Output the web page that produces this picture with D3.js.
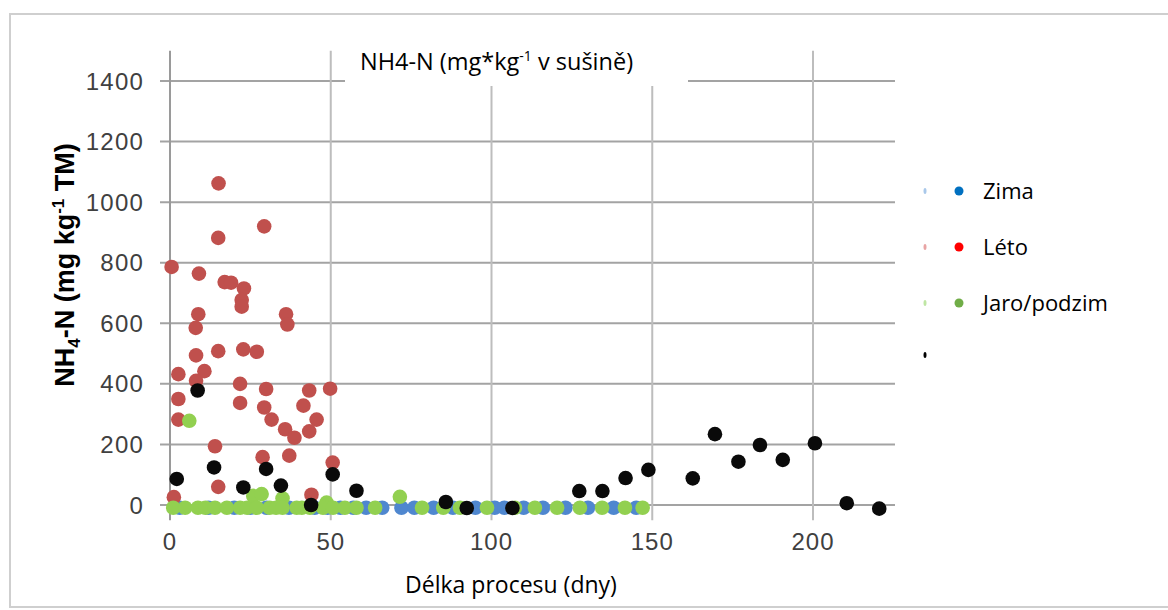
<!DOCTYPE html>
<html>
<head>
<meta charset="utf-8">
<script src="https://cdn.jsdelivr.net/npm/d3@7"></script>
<style>
  body { margin: 0; background: #fff; }
  svg { display: block; }
</style>
</head>
<body>
<div id="chart"></div>
<script>
// series values, [days, NH4-N]
var zima = [[3,-9],[12,-9],[20,-9],[25,-9],[30,-9],[37,-9],[45,-9],[49,-9],[53,-9],[57,-9],[61,-9],
            [66,-9],[72,-9],[76,-9],[82,-9],[88,-9],[95,-9],[101,-9],[104,-9],[110,-9],[116,-9],
            [123,-9],[130,-9],[138,-9],[145,-9]];
var leto = [[0.5,786],[15.1,1062],[29.3,920],[15,882],[9,764],[17,736],[19,734],[23,715],[22.3,677],
            [22.3,655],[8.8,630],[8,585],[36.1,630],[36.5,596],[8.1,494],[15,508],[22.8,514],[27,506],
            [2.6,432],[10.7,442],[8.1,410],[2.6,350],[2.6,282],[21.8,400],[21.8,337],[29.9,383],
            [29.3,322],[31.6,282],[43.3,378],[41.5,328],[49.8,384],[45.6,282],[35.8,250],[43.3,243],
            [38.7,222],[14,194],[28.8,158],[37.1,163],[50.6,140],[15,60],[1.2,26],[44,34]];
var jaroPodzim = [[6,278],[25.9,30],[28.5,36],[35,22],[48.7,8],[71.5,27],
            [1,-9],[4.7,-9],[8.7,-9],[11,-9],[14,-9],[17.7,-9],[21.8,-9],[24,-9],[27,-9],[31,-9],
            [33,-9],[35,-9],[39.4,-9],[41,-9],[43.5,-9],[47.6,-9],[50.7,-9],[54.4,-9],[58,-9],
            [63.8,-9],[78.4,-9],[85,-9],[90.2,-9],[98.6,-9],[107.3,-9],[113.5,-9],[120.4,-9],
            [127.5,-9],[134.4,-9],[141.5,-9],[147,-9]];
var ostatni = [[2.1,86],[8.6,378],[13.7,124],[22.8,58],[29.9,119],[34.5,64],[43.9,0],[50.6,101],
            [58,47],[85.8,10],[92.3,-10],[106.5,-10],[127.3,46],[134.5,46],[141.7,89],[148.8,116],
            [162.6,88],[169.5,234],[176.8,143],[183.5,198],[190.6,149],[200.6,204],[210.5,6],[220.6,-12]];

var xTicks = [0, 50, 100, 150, 200];
var yTicks = [0, 200, 400, 600, 800, 1000, 1200, 1400];
var legendNames = ["Zima", "Léto", "Jaro/podzim", ""];

var width = 1168, height = 610;

var svg = d3.select("#chart").append("svg")
    .attr("width", width)
    .attr("height", height);

// outer frame
svg.append("rect")
    .attr("x", 10).attr("y", 14)
    .attr("width", 1180).attr("height", 593)
    .attr("fill", "#fff")
    .attr("stroke", "#cfcfcf")
    .attr("stroke-width", 2);

var x = d3.scaleLinear().domain([0, 200]).range([170, 813]);
var y = d3.scaleLinear().domain([0, 1400]).range([505, 81]);

var grid = svg.append("g");

// horizontal gridlines (with tick stubs to the left)
grid.selectAll(".hgrid")
    .data(yTicks)
  .enter().append("line")
    .attr("class", "hgrid")
    .attr("x1", x(0) - 10).attr("x2", x(225.5))
    .attr("y1", function(d) { return y(d); })
    .attr("y2", function(d) { return y(d); })
    .attr("stroke", "#a3a3a3")
    .attr("stroke-width", 2);

// vertical gridlines
grid.selectAll(".vgrid")
    .data(xTicks)
  .enter().append("line")
    .attr("class", "vgrid")
    .attr("x1", function(d) { return x(d); })
    .attr("x2", function(d) { return x(d); })
    .attr("y1", y(1500)).attr("y2", y(-50))
    .attr("stroke", function(d) { return d === 0 ? "#9a9a9a" : "#bdbdbd"; })
    .attr("stroke-width", 2);

// tick labels
svg.append("g").selectAll("text")
    .data(yTicks)
  .enter().append("text")
    .attr("x", 144)
    .attr("y", function(d) { return y(d); })
    .attr("dy", "0.36em")
    .attr("text-anchor", "end")
    .style("font-family", "'Liberation Sans', Arial, sans-serif")
    .style("font-size", "24px")
    .style("letter-spacing", "1.2px")
    .attr("fill", "#404040")
    .text(function(d) { return d; });

svg.append("g").selectAll("text")
    .data(xTicks)
  .enter().append("text")
    .attr("x", function(d) { return x(d); })
    .attr("y", 541)
    .attr("dy", "0.36em")
    .attr("text-anchor", "middle")
    .style("font-family", "'Liberation Sans', Arial, sans-serif")
    .style("font-size", "24px")
    .style("letter-spacing", "1px")
    .attr("fill", "#404040")
    .text(function(d) { return d; });

// points
var r = 7.3;
function drawSeries(data, color) {
  svg.append("g").selectAll("circle")
      .data(data)
    .enter().append("circle")
      .attr("cx", function(d) { return x(d[0]); })
      .attr("cy", function(d) { return y(d[1]); })
      .attr("r", r)
      .attr("fill", color);
}
drawSeries(zima, "#4f87cf");
drawSeries(leto, "#c0504d");
drawSeries(jaroPodzim, "#92d050");
drawSeries(ostatni, "#0a0a0a");

// title with white box
svg.append("rect")
    .attr("x", 345).attr("y", 40)
    .attr("width", 343).attr("height", 46)
    .attr("fill", "#fff");
var title = svg.append("text")
    .attr("x", 360).attr("y", 70)
    .style("font-family", "'Open Sans', sans-serif")
    .style("font-size", "23.5px")
    .attr("fill", "#000");
title.append("tspan").text("NH4-N (mg*kg");
title.append("tspan").attr("dy", -9).style("font-size", "14px").text("-1");
title.append("tspan").attr("dy", 9).text(" v sušině)");

// axis titles
svg.append("text")
    .attr("x", 511).attr("y", 593)
    .attr("text-anchor", "middle")
    .style("font-family", "'Open Sans', sans-serif")
    .style("font-size", "23px")
    .attr("fill", "#000")
    .text("Délka procesu (dny)");

var yl = svg.append("text")
    .attr("transform", "translate(74,265) rotate(-90)")
    .attr("text-anchor", "middle")
    .style("font-family", "'Liberation Sans', Arial, sans-serif")
    .style("font-weight", "bold")
    .style("font-size", "27px")
    .attr("fill", "#000");
yl.append("tspan").text("NH");
yl.append("tspan").attr("dy", 6).style("font-size", "17px").text("4");
yl.append("tspan").attr("dy", -6).text("-N (mg kg");
yl.append("tspan").attr("dy", -10).style("font-size", "17px").text("-1");
yl.append("tspan").attr("dy", 10).text(" TM)");

// legend
var legendColors = ["#0070c0", "#ff0000", "#70ad47", "#000"];
var ghostColors = ["#a9c8ea", "#e8a4a4", "#bfe6a4", "#000"];
var legendY = [191, 247, 303, 355];
var legend = svg.append("g");
legend.selectAll(".ghost")
    .data(legendNames)
  .enter().append("ellipse")
    .attr("cx", 925)
    .attr("cy", function(d, i) { return legendY[i]; })
    .attr("rx", 1.5).attr("ry", 3)
    .attr("fill", function(d, i) { return ghostColors[i]; });
legend.selectAll(".mark")
    .data(legendNames.slice(0, 3))
  .enter().append("circle")
    .attr("cx", 959)
    .attr("cy", function(d, i) { return legendY[i]; })
    .attr("r", 4.5)
    .attr("fill", function(d, i) { return legendColors[i]; });
legend.selectAll(".lab")
    .data(legendNames.slice(0, 3))
  .enter().append("text")
    .attr("x", 983)
    .attr("y", function(d, i) { return legendY[i] + 8; })
    .style("font-family", "'Open Sans', sans-serif")
    .style("font-size", "22px")
    .attr("fill", "#000")
    .text(function(d) { return d; });
</script>
</body>
</html>
